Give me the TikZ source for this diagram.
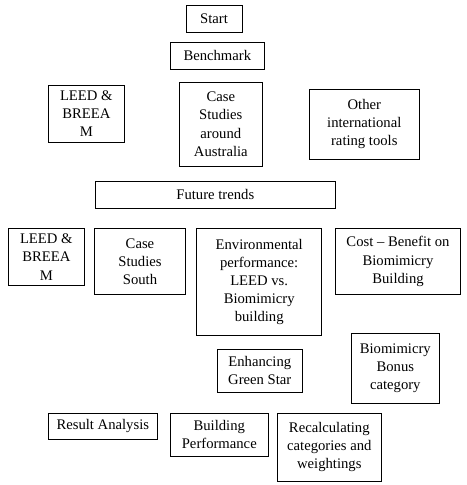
\documentclass[tikz,border=0pt]{standalone}
\usepackage{fontspec}
\setmainfont{Liberation Serif}
\usepackage{tikz}
\tikzset{
  box/.style={rectangle, draw=black, fill=white, align=center,
    inner sep=0pt, line width=0.75pt, font=\fontsize{11}{13.6}\selectfont},
}

\begin{document}
\begin{tikzpicture}[x=0.75pt, y=-0.75pt]
  \useasboundingbox (0,0) rectangle (467,485);

  % Benchmark stage (top)
  \node[box, minimum width=42pt, minimum height=20.25pt] (start) at (214,18.8) {Start};
  \node[box, minimum width=70.5pt, minimum height=20.25pt] (bench) at (217.3,55.8) {Benchmark};
  \node[box, minimum width=57pt, minimum height=42.75pt] (leedA) at (86.3,113.8) {LEED \&\\BREEA\\M};
  \node[box, minimum width=62.25pt, minimum height=63pt] (caseAus) at (220.8,124.2) {Case\\Studies\\around\\Australia};
  \node[box, minimum width=82.5pt, minimum height=52.5pt] (other) at (364.3,124.3) {Other\\international\\rating tools};

  % Future trends stage (middle)
  \node[box, minimum width=180pt, minimum height=20.25pt] (future) at (215.3,194.8) {Future trends};
  \node[box, minimum width=57pt, minimum height=42.75pt] (leedB) at (46.3,257) {LEED \&\\BREEA\\M};
  \node[box, minimum width=68.25pt, minimum height=49.5pt] (caseSouth) at (140,261.5) {Case\\Studies\\South};
  \node[box, minimum width=93.75pt, minimum height=80.25pt] (envPerf) at (259.2,282) {Environmental\\performance:\\LEED vs.\\Biomimicry\\building};
  \node[box, minimum width=93.75pt, minimum height=49.5pt] (cost) at (398,261.5) {Cost -- Benefit on\\Biomimicry\\Building};

  % Enhancing Green Star stage (bottom)
  \node[box, minimum width=66pt, minimum height=52.5pt] (bonus) at (395.3,368.2) {Biomimicry\\Bonus\\category};
  \node[box, minimum width=63.75pt, minimum height=32.25pt] (green) at (259.8,370.8) {Enhancing\\Green Star};
  \node[box, minimum width=81.75pt, minimum height=19.5pt] (result) at (102.8,426.3) {Result Analysis};
  \node[box, minimum width=73.5pt, minimum height=32.25pt] (buildPerf) at (219.3,434.8) {Building\\Performance};
  \node[box, minimum width=78pt, minimum height=51pt] (recalc) at (329.3,447.3) {Recalculating\\categories and\\weightings};
\end{tikzpicture}
\end{document}
